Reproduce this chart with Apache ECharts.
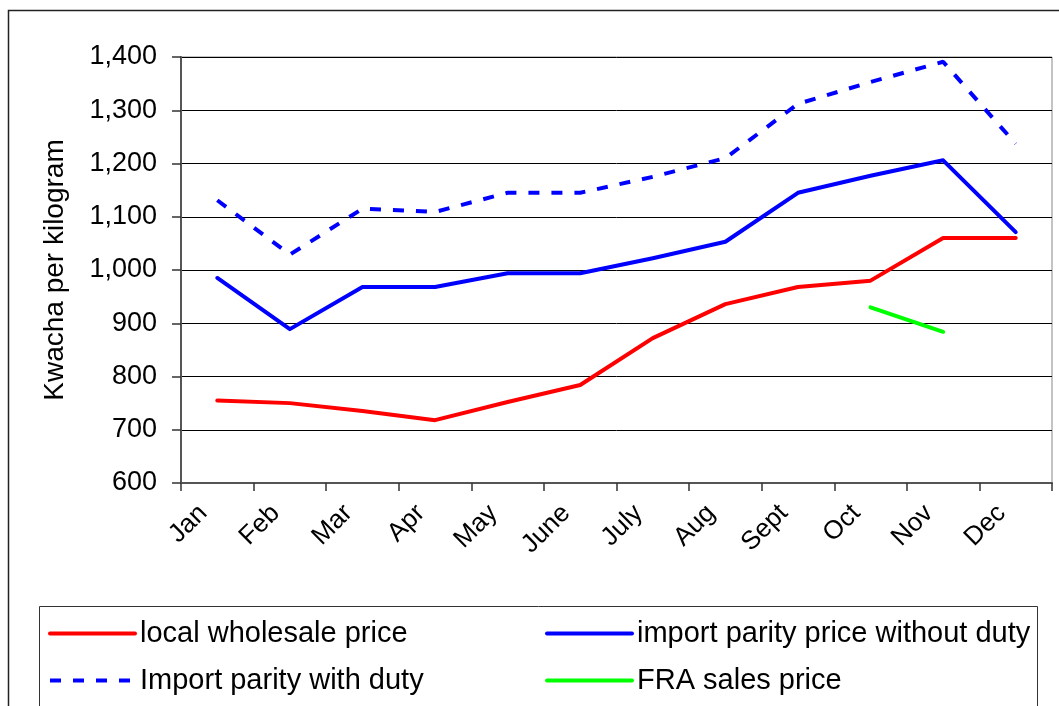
<!DOCTYPE html>
<html><head><meta charset="utf-8">
<script src="https://cdn.jsdelivr.net/npm/echarts@6/dist/echarts.min.js"></script>
<style>html,body{margin:0;padding:0;background:#fff}#c{width:1059px;height:706px}</style>
</head><body><div id="c"></div>
<script>
const months = ['Jan','Feb','Mar','Apr','May','June','July','Aug','Sept','Oct','Nov','Dec'];
const localWholesale = [755, 750, 735, 718, 752, 784, 872, 936, 968, 980, 1060, 1060];
const importNoDuty = [985, 889, 968, 968, 994, 994, 1022, 1053, 1145, 1177, 1206, 1071];
const importWithDuty = [1131, 1029, 1115, 1109, 1145, 1145, 1175, 1210, 1312, 1353, 1391, 1237];
const fraSales = [null, null, null, null, null, null, null, null, null, 930, 884, null];
const yTicks = {min: 600, max: 1400, interval: 100};

const chart = echarts.init(document.getElementById('c'));
const font = 'Liberation Sans, Arial, sans-serif';
chart.setOption({
  animation: false,
  backgroundColor: '#fff',
  graphic: [
    {type: 'rect', shape: {x: 8.5, y: 10.5, width: 1100, height: 800}, style: {fill: 'none', stroke: '#222', lineWidth: 1.5}, silent: true},
    {type: 'rect', shape: {x: 39.5, y: 606.5, width: 998, height: 120}, style: {fill: 'none', stroke: '#333', lineWidth: 1}, silent: true}
  ],
  grid: {left: 181, right: 7, top: 57, bottom: 223, show: true, borderColor: '#888', borderWidth: 1},
  legend: {
    left: 43, top: 610, width: 1010,
    itemWidth: 85, itemHeight: 20, itemGap: 10,
    itemStyle: {opacity: 0},
    lineStyle: {width: 4},
    textStyle: {fontFamily: font, fontSize: 29, color: '#000', width: 395, lineHeight: 37},
    data: ['local wholesale price', 'import parity price without duty', 'Import parity with duty', 'FRA sales price']
  },
  xAxis: {
    type: 'category', data: months, boundaryGap: true,
    axisLine: {lineStyle: {color: '#555', width: 2}},
    axisTick: {show: true, length: 8, lineStyle: {color: '#333', width: 1.5}},
    axisLabel: {rotate: 45, fontFamily: font, fontSize: 26, color: '#000', margin: 12, interval: 0, padding: [0, 20, 0, 0]},
    splitLine: {show: false}
  },
  yAxis: {
    type: 'value', min: yTicks.min, max: yTicks.max, interval: yTicks.interval,
    name: 'Kwacha per kilogram', nameLocation: 'middle', nameGap: 112,
    nameTextStyle: {fontFamily: font, fontSize: 28, color: '#000'},
    axisLine: {show: true, lineStyle: {color: '#555', width: 2}},
    axisTick: {show: true, length: 9, lineStyle: {color: '#333', width: 1.5}},
    axisLabel: {fontFamily: font, fontSize: 27, color: '#000', margin: 24,
      formatter: v => v.toLocaleString('en-US')},
    splitLine: {lineStyle: {color: '#000', width: 1}}
  },
  series: [
    {name: 'local wholesale price', type: 'line', data: localWholesale, symbol: 'none',
      lineStyle: {color: '#ff0000', width: 4, cap: 'round', join: 'round'}, itemStyle: {color: '#ff0000'}},
    {name: 'import parity price without duty', type: 'line', data: importNoDuty, symbol: 'none',
      lineStyle: {color: '#0000ff', width: 4, cap: 'round', join: 'round'}, itemStyle: {color: '#0000ff'}},
    {name: 'Import parity with duty', type: 'line', data: importWithDuty, symbol: 'none',
      lineStyle: {color: '#0000ff', width: 4, type: [11, 12], cap: 'butt'}, itemStyle: {color: '#0000ff'}},
    {name: 'FRA sales price', type: 'line', data: fraSales, symbol: 'none', connectNulls: false,
      lineStyle: {color: '#00ff00', width: 4, cap: 'round'}, itemStyle: {color: '#00ff00'}}
  ]
});
</script></body></html>
